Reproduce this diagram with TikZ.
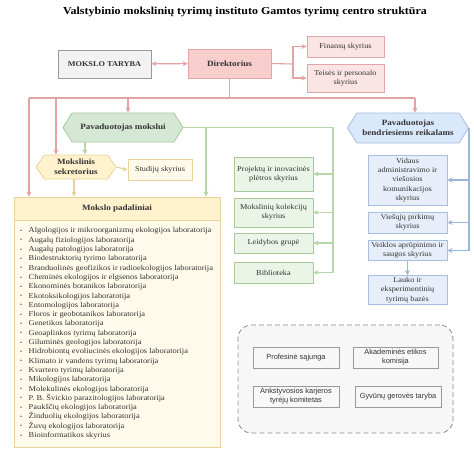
\documentclass[tikz,border=0pt]{standalone}
\usepackage{fontspec}
\setmainfont[FakeStretch=1.12]{Liberation Serif}
\newfontfamily\sansf{Liberation Sans}
\usetikzlibrary{shapes.symbols,arrows.meta}
\definecolor{txt}{HTML}{333333}
\definecolor{pinkline}{HTML}{E3A3A5}
\definecolor{pinkfill}{HTML}{F8CECC}
\definecolor{pinklight}{HTML}{FBE4E4}
\definecolor{pinkdraw}{HTML}{E0A7A8}
\definecolor{greenfill}{HTML}{D5E8D4}
\definecolor{greendraw}{HTML}{A9C99C}
\definecolor{greenlight}{HTML}{EAF5E7}
\definecolor{greenline}{HTML}{B7D7A8}
\definecolor{yelfill}{HTML}{FFF2CC}
\definecolor{yeldraw}{HTML}{E8D49A}
\definecolor{yellight}{HTML}{FFFAEA}
\definecolor{yelline}{HTML}{E6D39B}
\definecolor{bluefill}{HTML}{DAE8FC}
\definecolor{bluedraw}{HTML}{A8BEDE}
\definecolor{bluelight}{HTML}{E7EEF9}
\definecolor{blueline}{HTML}{9CB5D8}
\definecolor{grayfill}{HTML}{F2F2F2}
\definecolor{graydraw}{HTML}{9A9A9A}
\definecolor{boxgray}{HTML}{F7F7F7}
\definecolor{dashgray}{HTML}{8A8A8A}
\newcommand\litem[1]{\makebox[8.5pt][l]{\raisebox{0.4pt}{\scalebox{0.7}{\textbullet}}}#1}
\begin{document}
\begin{tikzpicture}[x=1pt,y=-1pt,
  every node/.style={text=txt,inner sep=1pt,align=center},
  box/.style={draw,line width=0.8pt,minimum width=#1},
  bx/.style={box=79pt},
  sm/.style={font=\fontsize{7.4}{9.3}\selectfont},
  bd/.style={font=\fontsize{8.1}{9.6}\selectfont\bfseries},
  hexa/.style={signal,signal to=west and east,signal pointer angle=116,draw,line width=0.8pt},
  arr/.style={-{Stealth[length=5pt,width=5pt]},line width=1.1pt},
  ln/.style={line width=1.1pt},
  pinkbox/.style={box=#1,fill=pinklight,draw=pinkdraw},
  gbox/.style={bx,fill=greenlight,draw=greendraw},
  bbox/.style={bx,fill=bluelight,draw=bluedraw},
  ibox/.style={draw=graydraw,fill=boxgray,line width=0.8pt,minimum width=86pt,minimum height=21pt,
     font=\sansf\fontsize{7.4}{9}\selectfont}
]
\useasboundingbox (0,0) rectangle (474,453);
\fill[white] (0,0) rectangle (474,453);

\node (title) at (245,12) {\fontsize{10.7}{12}\selectfont\bfseries\color{black}Valstybinio mokslinių tyrimų instituto Gamtos tyrimų centro struktūra};

% top row
\node[box=93pt,minimum height=28pt,fill=grayfill,draw=graydraw,font=\fontsize{7.4}{9}\selectfont\bfseries] (mt) at (104.5,64) {MOKSLO TARYBA};
\node[box=83pt,minimum height=29pt,fill=pinkfill,draw=pinkdraw,bd] (dir) at (229.5,63.5) {Direktorius};
\node[pinkbox=77pt,minimum height=21pt,sm] (fin) at (345.5,46.5) {Finansų skyrius};
\node[pinkbox=77pt,minimum height=28pt,sm] (teis) at (345.5,78) {Teisės ir personalo\\skyrius};

% hexagons
\node[hexa,fill=greenfill,draw=greendraw,minimum width=120pt,minimum height=29pt,bd] (pm) at (123,127.5) {Pavaduotojas mokslui};
\node[hexa,fill=bluefill,draw=bluedraw,minimum width=121pt,minimum height=30pt,bd] (pb) at (408,128) {Pavaduotojas\\bendriesiems reikalams};
\node[hexa,signal pointer angle=110,fill=yelfill,draw=yeldraw,minimum width=80pt,minimum height=24pt,bd] (ms) at (76,167) {Mokslinis\\sekretorius};
\node[box=64pt,minimum height=21pt,fill=yellight,draw=yeldraw,sm] (st) at (160,170) {Studijų skyrius};

% Mokslo padaliniai
\node[draw=yeldraw,fill=yellight,line width=0.8pt,minimum width=206pt,minimum height=227pt] (mpb) at (117,333.5) {};
\node[box=206pt,minimum height=23pt,fill=yelfill,draw=yeldraw,bd] (mp) at (117,208.5) {Mokslo padaliniai};
\node[anchor=north west,align=left,inner sep=0pt,font=\fontsize{7.5}{9.3}\selectfont] (list) at (20,227.5) {%
\litem{Algologijos ir mikroorganizmų ekologijos laboratorija}\\
\litem{Augalų fiziologijos laboratorija}\\
\litem{Augalų patologijos laboratorija}\\
\litem{Biodestruktorių tyrimo laboratorija}\\
\litem{Branduolinės geofizikos ir radioekologijos laboratorija}\\
\litem{Cheminės ekologijos ir elgsenos laboratorija}\\
\litem{Ekonominės botanikos laboratorija}\\
\litem{Ekotoksikologijos laboratotija}\\
\litem{Entomologijos laboratorija}\\
\litem{Floros ir geobotanikos laboratorija}\\
\litem{Genetikos laboratorija}\\
\litem{Geoaplinkos tyrimų laboratorija}\\
\litem{Giluminės geologijos laboratorija}\\
\litem{Hidrobiontų evoliucinės ekologijos laboratorija}\\
\litem{Klimato ir vandens tyrimų laboratorija}\\
\litem{Kvartero tyrimų laboratorija}\\
\litem{Mikologijos laboratorija}\\
\litem{Molekulinės ekologijos laboratorija}\\
\litem{P. B. Švickio parazitologijos laboratorija}\\
\litem{Paukščių ekologijos laboratorija}\\
\litem{Žinduolių ekologijos laboratorija}\\
\litem{Žuvų ekologijos laboratorija}\\
\litem{Bioinformatikos skyrius}};

% green column
\node[gbox,minimum height=34pt,sm] (g1) at (273.5,174) {Projektų ir inovacinės\\plėtros skyrius};
\node[gbox,minimum height=29pt,sm] (g2) at (273.5,212.5) {Mokslinių kolekcijų\\skyrius};
\node[gbox,minimum height=20pt,sm] (g3) at (273.5,243) {Leidybos grupė};
\node[gbox,minimum height=21pt,sm] (g4) at (273.5,272.5) {Biblioteka};

% blue column
\node[bbox,minimum height=50pt,sm] (b1) at (407.5,180) {Vidaus\\administravimo ir\\viešosios\\komunikacijos\\skyrius};
\node[bbox,minimum height=21pt,sm] (b2) at (407.5,222.5) {Viešųjų pirkimų\\skyrius};
\node[bbox,minimum height=20pt,sm] (b3) at (407.5,250.5) {Veiklos aprūpinimo ir\\saugos skyrius};
\node[bbox,minimum height=29pt,sm] (b4) at (407.5,290) {Lauko ir\\eksperimentinių\\tyrimų bazės};

% dashed group
\node[draw=dashgray,dashed,dash pattern=on 5pt off 3pt,line width=0.8pt,fill=boxgray,rounded corners=13pt,minimum width=215pt,minimum height=108pt] (grp) at (345.5,379) {};
\node[ibox] (pr) at (296,357.5) {Profesinė sąjunga};
\node[ibox,minimum width=85pt] (ak) at (395.5,357.5) {Akademinės etikos\\komisija};
\node[ibox] (an) at (296,396.5) {Ankstyvosios karjeros\\tyrėjų komitetas};
\node[ibox] (gy) at (398,396.5) {Gyvūnų gerovės taryba};

% pink connectors
\coordinate (bus) at (229.5,98);
\coordinate (busL) at (29,98);
\coordinate (busR) at (415,98);
\coordinate (pa) at (128,98);
\coordinate (pb2) at (56,98);
\coordinate (fork) at (293,64);
\draw[pinkline,{Stealth[length=5pt,width=5pt]}-{Stealth[length=5pt,width=5pt]},line width=1.1pt] (mt) -- (dir);
\draw[pinkline,ln] (dir.east) -- (fork);
\draw[pinkline,arr] (fork) |- (fin.west);
\draw[pinkline,arr] (fork) |- (teis.west);
\draw[pinkline,ln] (dir.south) -- (bus);
\draw[pinkline,ln] (busL) -- (busR);
\draw[pinkline,arr] (pa) -- (pa |- pm.north);
\draw[pinkline,arr] (busR) -- (busR |- pb.north);
\draw[pinkline,arr] (busL) -- (busL |- mp.north);
\draw[pinkline,arr] (pb2) -- (pb2 |- ms.north);

% green connectors
\coordinate (gx) at (85,0);
\coordinate (gR) at (333,0);
\coordinate (gm) at (206,0);
\draw[greenline,arr] (pm.south -| gx) -- (ms.north -| gx);
\draw[greenline,ln] (pm.east) -- (gR |- pm.east) -- (gR |- g4.east);
\draw[greenline,arr] (gR |- g1.east) -- (g1.east);
\draw[greenline,arr] (gR |- g2.east) -- (g2.east);
\draw[greenline,arr] (gR |- g3.east) -- (g3.east);
\draw[greenline,arr] (gR |- g4.east) -- (g4.east);
\draw[greenline,arr] (gm |- pm.east) -- (gm |- mp.north);

% yellow connectors
\coordinate (yx) at (74,0);
\draw[yelline,arr] (ms.east) -- (st.west);
\draw[yelline,arr] (ms.south -| yx) -- (mp.north -| yx);

% blue connectors
\draw[blueline,ln] (pb.east) -- (pb.east |- b3.east);
\draw[blueline,arr] (pb.east |- b1.east) -- (b1.east);
\draw[blueline,arr] (pb.east |- b2.east) -- (b2.east);
\draw[blueline,arr] (pb.east |- b3.east) -- (b3.east);
\draw[blueline,arr] (b3.south) -- (b4.north);
\end{tikzpicture}
\end{document}
